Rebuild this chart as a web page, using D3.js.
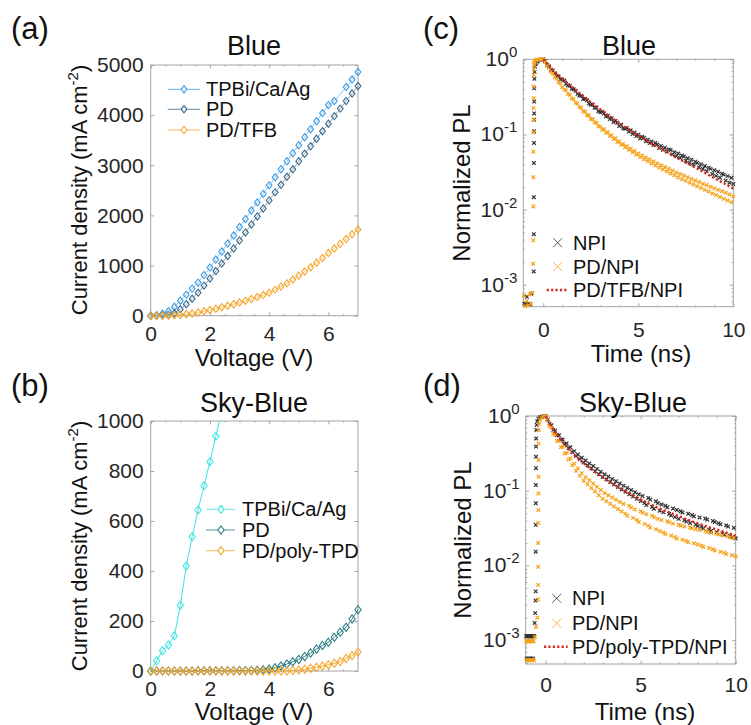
<!DOCTYPE html>
<html>
<head>
<meta charset="utf-8">
<script src="https://cdn.jsdelivr.net/npm/d3@7"></script>
<style>
  body { margin: 0; background: #fff; }
  svg { display: block; }
</style>
</head>
<body>
<svg id="chart" width="751" height="725"></svg>
<script>
// ---------- J–V data (panels a, b) ----------
const voltage = [0,0.2,0.4,0.6,0.8,1.0,1.2,1.4,1.6,1.8,2.0,2.2,2.4,2.6,2.8,3.0,3.2,3.4,3.6,3.8,
                 4.0,4.2,4.4,4.6,4.8,5.0,5.2,5.4,5.6,5.8,6.0,6.2,6.4,6.6,6.8,7.0];

// Blue devices, current density (mA cm^-2)
const blueTPBi = [0,10,40,90,180,300,420,540,660,810,960,1120,1280,1440,1600,1770,1930,2100,2260,2430,
                  2600,2760,2920,3080,3240,3400,3560,3720,3880,4040,4200,4280,null,4560,4710,4860];
const bluePD   = [0,0,5,15,50,130,230,340,460,600,740,890,1040,1190,1340,1500,1660,1820,1980,2140,
                  2300,2460,2610,2770,2920,3080,3230,3380,3530,3680,3830,3980,4130,4280,4430,4580];
const bluePDTFB = [0,0,2,4,8,15,28,45,65,90,115,140,168,198,230,262,296,333,372,415,
                   460,520,580,645,720,800,880,965,1055,1150,1250,1340,1435,1530,1625,1720];

// Sky-blue devices
const skyTPBi = [0,41,81,104,141,263,420,537,644,741,837,939,1045];
const skyPD   = [0,0,0,0,0,0,0,0,1,1,1,1,1,1,1,2,2,2,3,5,
                 8,13,20,28,37,46,58,72,88,102,115,135,155,175,208,245];
const skyPDpolyTPD = [0,0,0,0,0,0,0,0,0,0,0,0,0,0,0,0,0,0,0,0,
                      0,0,0,0,2,4,7,11,15,20,25,31,38,50,62,76];

const blueLabels = ["TPBi/Ca/Ag", "PD", "PD/TFB"];
const skyLabels  = ["TPBi/Ca/Ag", "PD", "PD/poly-TPD"];
const jvTicksX = [0, 2, 4, 6];
const blueTicksY = [0, 1000, 2000, 3000, 4000, 5000];
const skyTicksY = [0, 200, 400, 600, 800, 1000];

// ---------- TRPL data (panels c, d) ----------
// sample times of the decay records (ns)
const tDecay = d3.range(1, 101).map(i => i / 10);

// Blue: leading edge / background of each record
const cNpiRiseT = [-1.0,-0.93,-0.86,-0.78,-0.7,-0.62,-0.5,-0.497,-0.494,-0.491,-0.488,-0.485,
                   -0.482,-0.479,-0.476,-0.472,-0.466,-0.455,-0.43,-0.38,-0.3,-0.2,-0.1,0];
const cNpiRiseV = [5.6e-4,5.5e-4,6.9e-4,5.6e-4,5.5e-4,7.6e-4,1.5e-3,4.7e-3,0.0146,0.0416,0.077,0.11,
                   0.157,0.19,0.274,0.41,0.55,0.68,0.8,0.88,0.93,0.97,0.99,1.0];
const cPdRiseT = [-1.02,-0.95,-0.88,-0.8,-0.72,-0.64,-0.56,-0.53,-0.527,-0.524,-0.521,-0.518,-0.515,
                  -0.512,-0.509,-0.506,-0.503,-0.5,-0.495,-0.485,-0.47,-0.45,-0.4,-0.33,-0.25,-0.15,-0.07,0];
const cPdRiseV = [7.2e-4,5.2e-4,6.1e-4,5.3e-4,7.4e-4,5.6e-4,7.8e-4,1.9e-3,3.9e-3,0.011,0.027,0.059,0.107,
                  0.157,0.224,0.303,0.434,0.62,0.74,0.84,0.9,0.94,0.97,0.985,0.99,1.0,1.0,1.0];

// Blue: decay part, sampled at tDecay
const cNpiDecay = [
  0.945,0.838,0.806,0.728,0.703,0.655,0.598,0.591,0.541,0.540,
  0.522,0.470,0.447,0.446,0.405,0.399,0.381,0.344,0.329,0.326,
  0.297,0.298,0.285,0.258,0.249,0.250,0.226,0.228,0.204,0.198,
  0.201,0.190,0.173,0.177,0.160,0.163,0.146,0.151,0.143,0.129,
  0.135,0.121,0.119,0.122,0.109,0.114,0.101,0.106,0.0951,0.0992,
  0.0884,0.0931,0.0902,0.0812,0.0851,0.0766,0.0809,0.0722,0.0771,0.0735,
  0.0662,0.0703,0.0627,0.0667,0.0594,0.0633,0.0619,0.0543,0.0582,0.0513,
  0.0557,0.0486,0.0524,0.0508,0.0447,0.0483,0.0421,0.0462,0.0398,0.0435,
  0.0417,0.0364,0.0401,0.0346,0.0381,0.0325,0.0362,0.0348,0.0297,0.0334,
  0.0281,0.0318,0.0266,0.0301,0.0292,0.0243,0.0279,0.0228,0.0265,0.0219];
const cPdDecay = [
  0.920,0.820,0.772,0.683,0.649,0.578,0.553,0.495,0.476,0.425,
  0.398,0.386,0.345,0.337,0.301,0.294,0.264,0.257,0.231,0.226,
  0.203,0.200,0.181,0.179,0.161,0.159,0.144,0.143,0.128,0.128,
  0.116,0.117,0.105,0.107,0.0955,0.0972,0.0871,0.0889,0.0795,0.0809,
  0.0727,0.0748,0.0674,0.0695,0.0626,0.0648,0.0581,0.0601,0.0537,0.0559,
  0.0499,0.0526,0.0468,0.0494,0.0439,0.0466,0.0411,0.0437,0.0386,0.0412,
  0.0362,0.0389,0.0342,0.0368,0.0321,0.0349,0.0303,0.0331,0.0286,0.0312,
  0.0268,0.0297,0.0254,0.0284,0.0241,0.0269,0.0228,0.0256,0.0216,0.0244,
  0.0204,0.0233,0.0194,0.0221,0.0183,0.0212,0.0174,0.0201,0.0164,0.0192,
  0.0156,0.0183,0.0147,0.0175,0.0139,0.0167,0.0132,0.0159,0.0125,0.0150];

// Sky-blue: leading edge / background
const dNpiRiseT = [-1.03,-1.0,-0.97,-0.94,-0.91,-0.88,-0.85,-0.82,-0.79,-0.76,-0.73,-0.7,-0.67,-0.64,-0.61,-0.58,
                   -0.55,-0.53,-0.527,-0.524,-0.521,-0.518,-0.515,-0.512,-0.509,-0.505,-0.5,
                   -0.49,-0.47,-0.44,-0.38,-0.3,-0.2,-0.1,0];
const dNpiRiseV = [1.13e-3,5.7e-4,1.13e-3,1.13e-3,1.13e-3,5.7e-4,1.13e-3,1.13e-3,5.7e-4,1.13e-3,1.13e-3,1.13e-3,5.7e-4,1.13e-3,1.13e-3,1.7e-3,
                   2.3e-3,3.4e-3,4.5e-3,0.0153,0.035,0.068,0.119,0.2,0.285,0.39,0.5,
                   0.65,0.76,0.85,0.92,0.96,0.98,0.995,1.0];
const dPdRiseT = [-1.03,-1.0,-0.97,-0.94,-0.91,-0.88,-0.85,-0.82,-0.79,-0.76,
                  -0.73,-0.7,-0.67,-0.64,-0.61,-0.57,-0.5,-0.44,-0.4,-0.397,
                  -0.394,-0.391,-0.388,-0.385,-0.382,-0.379,-0.375,-0.37,-0.36,-0.34,
                  -0.3,-0.22,-0.12,0];
const dPdRiseV = [9.7e-4,5.4e-4,9.7e-4,9.7e-4,5.4e-4,9.7e-4,5.4e-4,9.7e-4,9.7e-4,5.4e-4,
                  9.7e-4,5.4e-4,9.7e-4,9.7e-4,5.4e-4,1.1e-3,1.5e-3,2.0e-3,3.5e-3,5.5e-3,
                  9.6e-3,0.02,0.037,0.055,0.092,0.154,0.257,0.43,0.65,0.78,
                  0.88,0.95,0.99,1.0];

// Sky-blue: decay part, sampled at tDecay
const dNpiDecay = [
  0.900,0.790,0.750,0.652,0.633,0.556,0.552,0.486,0.483,0.421,
  0.428,0.372,0.381,0.329,0.339,0.292,0.305,0.265,0.277,0.239,
  0.254,0.218,0.232,0.199,0.214,0.183,0.196,0.166,0.180,0.152,
  0.166,0.141,0.155,0.131,0.144,0.121,0.134,0.112,0.125,0.104,
  0.117,0.097,0.109,0.0896,0.102,0.0838,0.0957,0.0778,0.0897,0.0726,
  0.0848,0.0684,0.0643,0.0801,0.0762,0.0607,0.0574,0.0722,0.0685,0.0541,
  0.0656,0.0513,0.0628,0.0602,0.0489,0.0465,0.0577,0.0443,0.0553,0.0421,
  0.0531,0.0512,0.0403,0.0386,0.0492,0.0369,0.0473,0.0455,0.0354,0.0338,
  0.0439,0.0325,0.0312,0.0424,0.0409,0.0301,0.0289,0.0394,0.0381,0.0278,
  0.0368,0.0355,0.0268,0.0258,0.0343,0.0331,0.0249,0.0239,0.0319,0.0231];
const dPdDecay = [
  0.880,0.740,0.690,0.575,0.556,0.466,0.461,0.383,0.384,0.314,
  0.321,0.262,0.271,0.219,0.229,0.185,0.199,0.158,0.172,0.136,
  0.152,0.122,0.138,0.109,0.125,0.0978,0.113,0.0870,0.102,0.0782,
  0.0934,0.0721,0.0872,0.0668,0.0812,0.0616,0.0757,0.0571,0.0706,0.0528,
  0.0664,0.0494,0.0463,0.0628,0.0594,0.0433,0.0562,0.0406,0.0381,0.0531,
  0.0506,0.0360,0.0484,0.0341,0.0322,0.0462,0.0441,0.0305,0.0420,0.0289,
  0.0404,0.0276,0.0263,0.0390,0.0377,0.0251,0.0363,0.0240,0.0229,0.0351,
  0.0341,0.0221,0.0333,0.0213,0.0205,0.0323,0.0315,0.0198,0.0306,0.0191,
  0.0298,0.0184,0.0177,0.0290,0.0281,0.0171,0.0274,0.0165,0.0159,0.0267,
  0.0260,0.0153,0.0253,0.0148,0.0142,0.0246,0.0239,0.0137,0.0232,0.0132];

// Interlayer samples (smooth fits), drawn as dotted lines
const redT = [0,0.25,0.5,1,1.5,2,2.5,3,3.5,4,4.5,5,5.5,6,6.5,7,7.5,8,8.5,9,9.5,10];
const cTfbNpi = [1,0.851,0.724,0.556,0.432,0.339,0.269,0.216,0.174,0.141,0.116,0.0966,0.0813,0.0684,
                 0.0582,0.0495,0.0422,0.0363,0.0309,0.0263,0.0224,0.0191];
const dPolyNpi = [1,0.776,0.603,0.417,0.302,0.234,0.186,0.151,0.124,0.105,0.0891,0.0759,0.0661,0.0575,
                  0.0513,0.0457,0.0407,0.0367,0.0331,0.0302,0.0275,0.0251];

const cLabels = ["NPI", "PD/NPI", "PD/TFB/NPI"];
const dLabels = ["NPI", "PD/NPI", "PD/poly-TPD/NPI"];
const trplTicksX = [0, 5, 10];
const trplTicksY = [1, 0.1, 0.01, 0.001];

// ---------- styling ----------
const FONT = '"Liberation Sans", Arial, Helvetica, sans-serif';
const AX = '#a3a3a3', INK = '#262626';
const C = {
  tpbi: '#3d9ce6', pd: '#3b6a8c', orange: '#f4a62a',
  cyan: '#3fe3e3', teal: '#2a7b80',
  npi: '#333333', pdnpi: '#f7a21a', red: '#d9261c'
};

const svg = d3.select('#chart');

function addAxis(g, axis, tx, ty, fs) {
  const s = g.append('g').attr('transform', `translate(${tx},${ty})`).call(axis);
  s.attr('font-family', FONT).attr('font-size', fs || 21);
  s.select('.domain').remove();
  s.selectAll('line').attr('stroke', AX).attr('stroke-width', 1);
  s.selectAll('text').attr('fill', INK);
  return s;
}

// Box with inward ticks on all four sides (major + minor)
function frame(x, y, o) {
  const g = svg.append('g');
  const [x0, x1] = x.range();
  const [yb, yt] = y.range();
  const blank = () => '';
  [[o.xMinor, 1.6, false], [o.xTicks, 3.4, true]].forEach(([vals, len, lab]) => {
    addAxis(g, d3.axisBottom(x).tickValues(vals).tickSizeInner(-len).tickSizeOuter(0)
      .tickPadding(o.xPad).tickFormat(lab ? o.xFormat : blank), 0, yb);
    addAxis(g, d3.axisTop(x).tickValues(vals).tickSizeInner(-len).tickSizeOuter(0).tickFormat(blank), 0, yt);
  });
  [[o.yMinor, 1.6, false], [o.yTicks, 3.4, true]].forEach(([vals, len, lab]) => {
    addAxis(g, d3.axisLeft(y).tickValues(vals).tickSizeInner(-len).tickSizeOuter(0)
      .tickPadding(o.yPad).tickFormat(lab && o.yFormat ? o.yFormat : blank), x0, 0);
    addAxis(g, d3.axisRight(y).tickValues(vals).tickSizeInner(-len).tickSizeOuter(0).tickFormat(blank), x1, 0);
  });
  g.append('rect').attr('x', x0).attr('y', yt).attr('width', x1 - x0).attr('height', yb - yt)
    .attr('fill', 'none').attr('stroke', AX).attr('stroke-width', 1);
  return g;
}

function text(x, y, str, size, anchor, extra) {
  const t = svg.append('text').attr('x', x).attr('y', y).attr('font-family', FONT)
    .attr('font-size', size).attr('fill', '#111').attr('text-anchor', anchor || 'middle').text(str);
  if (extra) extra(t);
  return t;
}

// power-of-ten labels for log axes
function logLabels(x, y) {
  const x0 = x.range()[0];
  trplTicksY.forEach(v => {
    const e = Math.round(Math.log10(v));
    const t = svg.append('text').attr('x', x0 - 6).attr('y', y(v) + 7).attr('text-anchor', 'end')
      .attr('font-family', FONT).attr('font-size', 21).attr('fill', INK);
    t.append('tspan').text('10');
    t.append('tspan').attr('dy', -9).attr('font-size', 15).text(String(e));
  });
}

function logMinor(y) {
  const [lo, hi] = y.domain();
  const out = [];
  for (let e = -4; e <= 0; e++) for (let k = 2; k <= 9; k++) {
    const v = k * Math.pow(10, e);
    if (v > lo && v < hi) out.push(v);
  }
  return out;
}

const diamond = (w, h) => `M0,${-h}L${w},0L0,${h}L${-w},0Z`;

function jvSeries(g, x, y, xs, ys, color, lw, w, h) {
  const pts = xs.map((v, i) => [v, ys[i]]).filter(d => d[1] != null);
  g.append('path').attr('d', d3.line().x(d => x(d[0])).y(d => y(d[1]))(pts))
    .attr('fill', 'none').attr('stroke', color).attr('stroke-width', lw);
  g.append('g').selectAll('path').data(pts).join('path')
    .attr('transform', d => `translate(${x(d[0])},${y(d[1])})`)
    .attr('d', diamond(w, h)).attr('fill', 'none').attr('stroke', color).attr('stroke-width', 1.1);
}

function jvLegend(labels, colors, x1, x2, xm, xt, rows, w, h) {
  labels.forEach((lab, i) => {
    svg.append('line').attr('x1', x1).attr('x2', x2).attr('y1', rows[i]).attr('y2', rows[i])
      .attr('stroke', colors[i]).attr('stroke-width', 0.8);
    svg.append('path').attr('transform', `translate(${xm},${rows[i]})`).attr('d', diamond(w, h))
      .attr('fill', '#fff').attr('stroke', colors[i]).attr('stroke-width', 1.1);
    text(xt, rows[i] + 7, lab, 20, 'start');
  });
}

const crossPath = r => `M${-r},${-r}L${r},${r}M${-r},${r}L${r},${-r}`;

function crosses(g, x, y, ts, vs, color) {
  g.append('g').selectAll('path').data(ts.map((t, i) => [t, vs[i]])).join('path')
    .attr('transform', d => `translate(${x(d[0])},${y(d[1])})`)
    .attr('d', crossPath(1.8)).attr('fill', 'none').attr('stroke', color).attr('stroke-width', 1.2);
}

function dotted(g, x, y, ts, vs) {
  g.append('path').attr('d', d3.line().curve(d3.curveMonotoneX).x(d => x(d[0])).y(d => y(d[1]))(ts.map((t, i) => [t, vs[i]])))
    .attr('fill', 'none').attr('stroke', C.red).attr('stroke-width', 2.4).attr('stroke-dasharray', '2.2,2.2');
}

function trplLegend(labels, xc, xl1, xl2, xt, rows) {
  [C.npi, C.pdnpi].forEach((col, i) => {
    svg.append('path').attr('transform', `translate(${xc},${rows[i]})`).attr('d', crossPath(4.5))
      .attr('stroke', col).attr('stroke-width', 1).attr('fill', 'none').attr('opacity', 0.8);
  });
  svg.append('line').attr('x1', xl1).attr('x2', xl2).attr('y1', rows[2]).attr('y2', rows[2])
    .attr('stroke', C.red).attr('stroke-width', 2.4).attr('stroke-dasharray', '2.2,2.2');
  labels.forEach((lab, i) => text(xt, rows[i] + 7, lab, 20, 'start'));
}

// ---------- panel (a): Blue J–V ----------
{
  const x = d3.scaleLinear().domain([0, 7]).range([150.7, 358]);
  const y = d3.scaleLinear().domain([0, 5000]).range([315.7, 65]);
  frame(x, y, {xTicks: jvTicksX, xMinor: [0.5,1,1.5,2.5,3,3.5,4.5,5,5.5,6.5], xPad: 10, xFormat: d3.format('d'),
               yTicks: blueTicksY, yMinor: [], yPad: 7, yFormat: d3.format('d')});
  const g = svg.append('g');
  jvSeries(g, x, y, voltage, blueTPBi, C.tpbi, 0.6, 2.9, 3.6);
  jvSeries(g, x, y, voltage, bluePD, C.pd, 0.6, 2.9, 3.6);
  jvSeries(g, x, y, voltage, bluePDTFB, C.orange, 0.6, 2.9, 3.6);
  jvLegend(blueLabels, [C.tpbi, C.pd, C.orange], 167.7, 200, 184, 206, [89.3, 109.3, 130], 2.9, 3.6);
  text(254, 54.5, 'Blue', 27);
  text(254, 366, 'Voltage (V)', 24);
  text(87, 190, null, 22, 'middle', t => {
    t.attr('transform', 'rotate(-90,87,190)').attr('x', 87).attr('y', 190);
    t.append('tspan').text('Current density (mA cm');
    t.append('tspan').attr('dy', -9).attr('font-size', 15).text('-2');
    t.append('tspan').attr('dy', 9).text(')');
  });
  text(11, 39, '(a)', 31, 'start');
}

// ---------- panel (b): Sky-Blue J–V ----------
{
  const x = d3.scaleLinear().domain([0, 7]).range([150.7, 358]);
  const y = d3.scaleLinear().domain([0, 1000]).range([671, 421]);
  frame(x, y, {xTicks: jvTicksX, xMinor: [0.5,1,1.5,2.5,3,3.5,4.5,5,5.5,6.5], xPad: 10, xFormat: d3.format('d'),
               yTicks: skyTicksY, yMinor: [], yPad: 7, yFormat: d3.format('d')});
  svg.append('clipPath').attr('id', 'clipB').append('rect')
    .attr('x', 140).attr('y', 421).attr('width', 230).attr('height', 260);
  const g = svg.append('g').attr('clip-path', 'url(#clipB)');
  jvSeries(g, x, y, voltage.slice(0, skyTPBi.length), skyTPBi, C.cyan, 1, 3.1, 4);
  jvSeries(g, x, y, voltage, skyPD, C.teal, 1, 3.1, 4);
  jvSeries(g, x, y, voltage, skyPDpolyTPD, C.orange, 1, 3.1, 4);
  jvLegend(skyLabels, [C.cyan, C.teal, C.orange], 206, 235, 221, 242, [509.3, 530, 550.7], 3.1, 4);
  text(254, 411.5, 'Sky-Blue', 27);
  text(254, 720, 'Voltage (V)', 24);
  text(87, 546, null, 22, 'middle', t => {
    t.attr('transform', 'rotate(-90,87,546)').attr('x', 87).attr('y', 546);
    t.append('tspan').text('Current density (mA cm');
    t.append('tspan').attr('dy', -9).attr('font-size', 15).text('-2');
    t.append('tspan').attr('dy', 9).text(')');
  });
  text(11, 396, '(b)', 31, 'start');
}

// ---------- panel (c): Blue TRPL ----------
{
  const x = d3.scaleLinear().domain([-1.05, 10]).range([523.3, 733.3]);
  const y = d3.scaleLog().domain([5.1e-4, 1]).range([306.7, 59.3]);
  frame(x, y, {xTicks: trplTicksX, xMinor: [-1,1,2,3,4,6,7,8,9], xPad: 15, xFormat: d3.format('d'),
               yTicks: trplTicksY, yMinor: logMinor(y), yPad: 7, yFormat: null});
  logLabels(x, y);
  const g = svg.append('g');
  crosses(g, x, y, cNpiRiseT.concat(tDecay), cNpiRiseV.concat(cNpiDecay), C.npi);
  crosses(g, x, y, cPdRiseT.concat(tDecay), cPdRiseV.concat(cPdDecay), C.pdnpi);
  dotted(g, x, y, redT, cTfbNpi);
  trplLegend(cLabels, 557.7, 546.7, 568.3, 573, [242.7, 266.7, 290]);
  text(629, 54.5, 'Blue', 27);
  text(641, 362, 'Time (ns)', 24);
  text(470, 183, 'Normalized PL', 24, 'middle', t => t.attr('transform', 'rotate(-90,470,183)'));
  text(423, 39, '(c)', 31, 'start');
}

// ---------- panel (d): Sky-Blue TRPL ----------
{
  const x = d3.scaleLinear().domain([-1.05, 10]).range([525.7, 735.7]);
  const y = d3.scaleLog().domain([4.8e-4, 1]).range([664, 416]);
  frame(x, y, {xTicks: trplTicksX, xMinor: [-1,1,2,3,4,6,7,8,9], xPad: 13, xFormat: d3.format('d'),
               yTicks: trplTicksY, yMinor: logMinor(y), yPad: 7, yFormat: null});
  logLabels(x, y);
  const g = svg.append('g');
  crosses(g, x, y, dNpiRiseT.concat(tDecay), dNpiRiseV.concat(dNpiDecay), C.npi);
  crosses(g, x, y, dPdRiseT.concat(tDecay), dPdRiseV.concat(dPdDecay), C.pdnpi);
  dotted(g, x, y, redT, dPolyNpi);
  trplLegend(dLabels, 556.7, 544, 567.7, 572, [598.3, 623.3, 646.7]);
  text(633, 411.5, 'Sky-Blue', 27);
  text(645, 720, 'Time (ns)', 24);
  text(471, 540, 'Normalized PL', 24, 'middle', t => t.attr('transform', 'rotate(-90,471,540)'));
  text(423, 396, '(d)', 31, 'start');
}
</script>
</body>
</html>
